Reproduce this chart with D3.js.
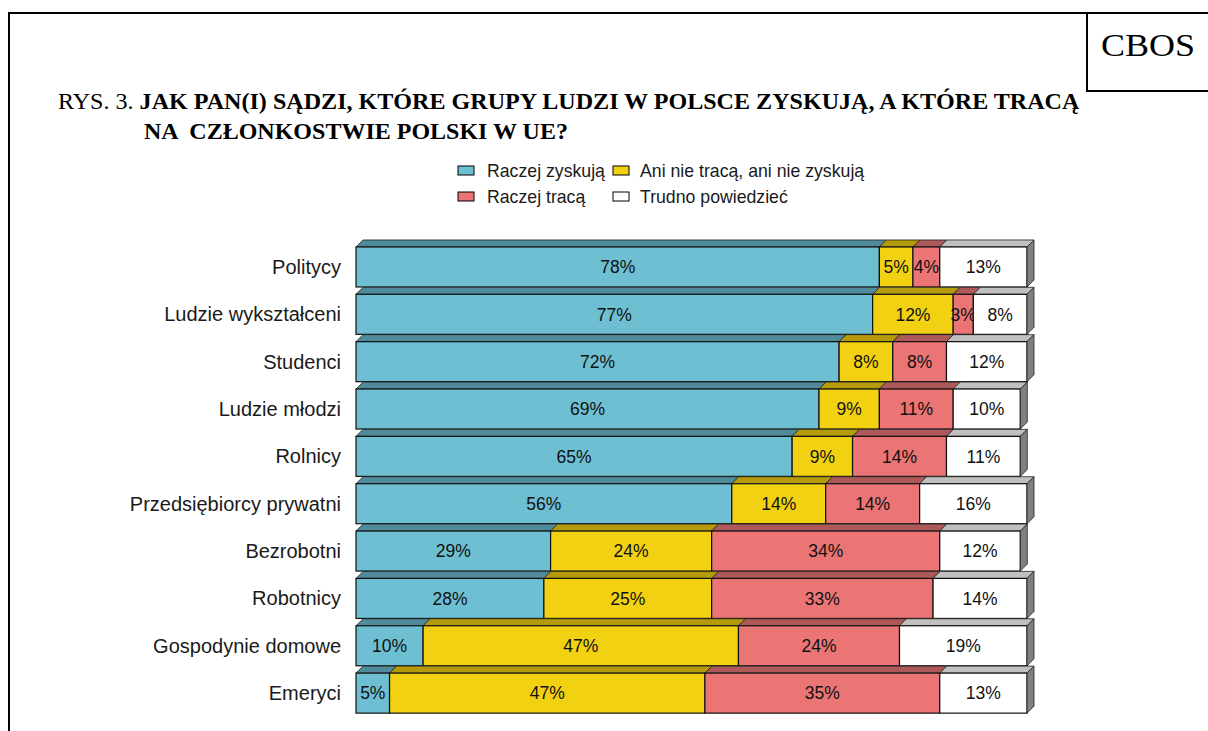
<!DOCTYPE html>
<html>
<head>
<meta charset="utf-8">
<script src="https://cdn.jsdelivr.net/npm/d3@7"></script>
<style>
body { margin: 0; background: #fff; }
svg { display: block; }
</style>
</head>
<body>
<svg></svg>
<script>
var categories = ["Politycy", "Ludzie wykształceni", "Studenci", "Ludzie młodzi", "Rolnicy",
	"Przedsiębiorcy prywatni", "Bezrobotni", "Robotnicy", "Gospodynie domowe", "Emeryci"];
var seriesNames = ["Raczej zyskują", "Ani nie tracą, ani nie zyskują", "Raczej tracą", "Trudno powiedzieć"];
var zyskuja = [78, 77, 72, 69, 65, 56, 29, 28, 10, 5];
var aniAni = [5, 12, 8, 9, 9, 14, 24, 25, 47, 47];
var traca = [4, 3, 8, 11, 14, 14, 34, 33, 24, 35];
var trudno = [13, 8, 12, 10, 11, 16, 12, 14, 19, 13];

var front = ["#6ebfd2", "#f2d113", "#eb7575", "#ffffff"];
var topc = ["#4f8b9a", "#b59a0c", "#ad5959", "#c0c0c0"];
var sidec = "#808080";
var depth = 7;
var width = 1208, height = 731;
var svg, x, y;

function frame(){
	svg.append("line").attr("x1", 9).attr("y1", 13).attr("x2", width).attr("y2", 13)
	.attr("stroke", "#000").attr("stroke-width", 2);
	svg.append("line").attr("x1", 9).attr("y1", 12).attr("x2", 9).attr("y2", height)
	.attr("stroke", "#000").attr("stroke-width", 2);
	svg.append("line").attr("x1", 1087).attr("y1", 12).attr("x2", 1087).attr("y2", 92)
	.attr("stroke", "#000").attr("stroke-width", 2);
	svg.append("line").attr("x1", 1086).attr("y1", 91).attr("x2", width).attr("y2", 91)
	.attr("stroke", "#000").attr("stroke-width", 2);
	var cb = svg.append("text").attr("x", 1148).attr("y", 55).attr("text-anchor", "middle")
	.attr("font-family", "Liberation Serif, Times New Roman, serif").attr("font-size", 31)
	.text("CBOS");
	fitWidth(cb, 1101, 56, 94);
	cb.attr("text-anchor", "start");

	var t1 = svg.append("text").attr("x", 58).attr("y", 109)
	.attr("font-family", "Liberation Serif, Times New Roman, serif").attr("font-size", 24);
	t1.append("tspan").text("RYS. 3. ");
	t1.append("tspan").attr("font-weight", "bold")
	.text("JAK PAN(I) SĄDZI, KTÓRE GRUPY LUDZI W POLSCE ZYSKUJĄ, A KTÓRE TRACĄ");
	var t2 = svg.append("text").attr("x", 144).attr("y", 139)
	.attr("font-family", "Liberation Serif, Times New Roman, serif").attr("font-size", 24)
	.attr("font-weight", "bold").attr("xml:space", "preserve")
	.text("NA  CZŁONKOSTWIE POLSKI W UE?");
	fitWidth(t1, 58, 109, 1022);
	fitWidth(t2, 144, 139, 424);
}

// squeeze a text line horizontally to the width seen in the picture
function fitWidth(t, x0, y0, w){
	var len = t.node().getComputedTextLength();
	var k = w / len;
	t.attr("x", 0).attr("y", 0)
	.attr("transform", "translate(" + x0 + "," + y0 + ") scale(" + k + ",1)");
}

function legend(){
	var pos = [[458, 171], [613, 171], [458, 197], [613, 197]];
	var g = svg.append("g").attr("font-family", "Liberation Sans, Arial, sans-serif").attr("font-size", 17.7);
	seriesNames.forEach(function(n, i){
		g.append("rect").attr("x", pos[i][0]).attr("y", pos[i][1] - 5).attr("width", 16).attr("height", 9)
		.attr("fill", front[i]).attr("stroke", "#000").attr("stroke-width", 1);
		g.append("text").attr("x", pos[i][0] + (i % 2 ? 27 : 29)).attr("y", pos[i][1]).attr("dy", "0.35em")
		.attr("fill", "#1a1a1a").text(n);
	});
}

function bars(){
	var rows = categories.map(function(c, i){
		var vals = [zyskuja[i], aniAni[i], traca[i], trudno[i]];
		var acc = 0;
		return {name: c, segs: vals.map(function(v, k){
			var s = {k: k, v: v, x0: acc, x1: acc + v};
			acc += v;
			return s;
		})};
	});

	var row = svg.selectAll("g.row").data(rows).enter().append("g").classed("row", true)
	.attr("transform", d => "translate(0," + y(d.name) + ")");
	var h = y.bandwidth();

	row.append("text")
	.attr("x", 341).attr("y", h / 2).attr("dy", "0.35em").attr("text-anchor", "end")
	.attr("font-family", "Liberation Sans, Arial, sans-serif").attr("font-size", 20)
	.attr("fill", "#1a1a1a").text(d => d.name);

	var seg = row.selectAll("g.seg").data(d => d.segs).enter().append("g").classed("seg", true);

	seg.append("path")
	.attr("d", d => "M" + x(d.x0) + ",0 L" + (x(d.x0) + depth) + "," + (-depth) +
		" L" + (x(d.x1) + depth) + "," + (-depth) + " L" + x(d.x1) + ",0 Z")
	.attr("fill", d => topc[d.k]).attr("stroke", "#222").attr("stroke-width", 0.8);

	seg.append("rect")
	.attr("x", d => x(d.x0)).attr("y", 0)
	.attr("width", d => x(d.x1) - x(d.x0)).attr("height", h)
	.attr("fill", d => front[d.k]).attr("stroke", "#111").attr("stroke-width", 1.2);

	seg.filter(d => d.k == 3).append("path")
	.attr("d", d => "M" + x(d.x1) + ",0 L" + (x(d.x1) + depth) + "," + (-depth) +
		" L" + (x(d.x1) + depth) + "," + (h - depth) + " L" + x(d.x1) + "," + h + " Z")
	.attr("fill", sidec).attr("stroke", "#222").attr("stroke-width", 0.8);

	seg.append("text")
	.attr("x", d => (x(d.x0) + x(d.x1)) / 2).attr("y", h / 2).attr("dy", "0.36em")
	.attr("text-anchor", "middle")
	.attr("font-family", "Liberation Sans, Arial, sans-serif").attr("font-size", 17.5)
	.attr("fill", "#111").text(d => d.v + "%");
}

function init(){
	svg = d3.select("svg").attr("width", width).attr("height", height);
	x = d3.scaleLinear().domain([0, 100]).range([356, 1027]);
	y = d3.scaleBand().domain(categories).range([243.3, 243.3 + 10 * 47.35])
	.paddingInner(0.155).paddingOuter(0.0775);
	frame();
	legend();
	bars();
}

init();
</script>
</body>
</html>
